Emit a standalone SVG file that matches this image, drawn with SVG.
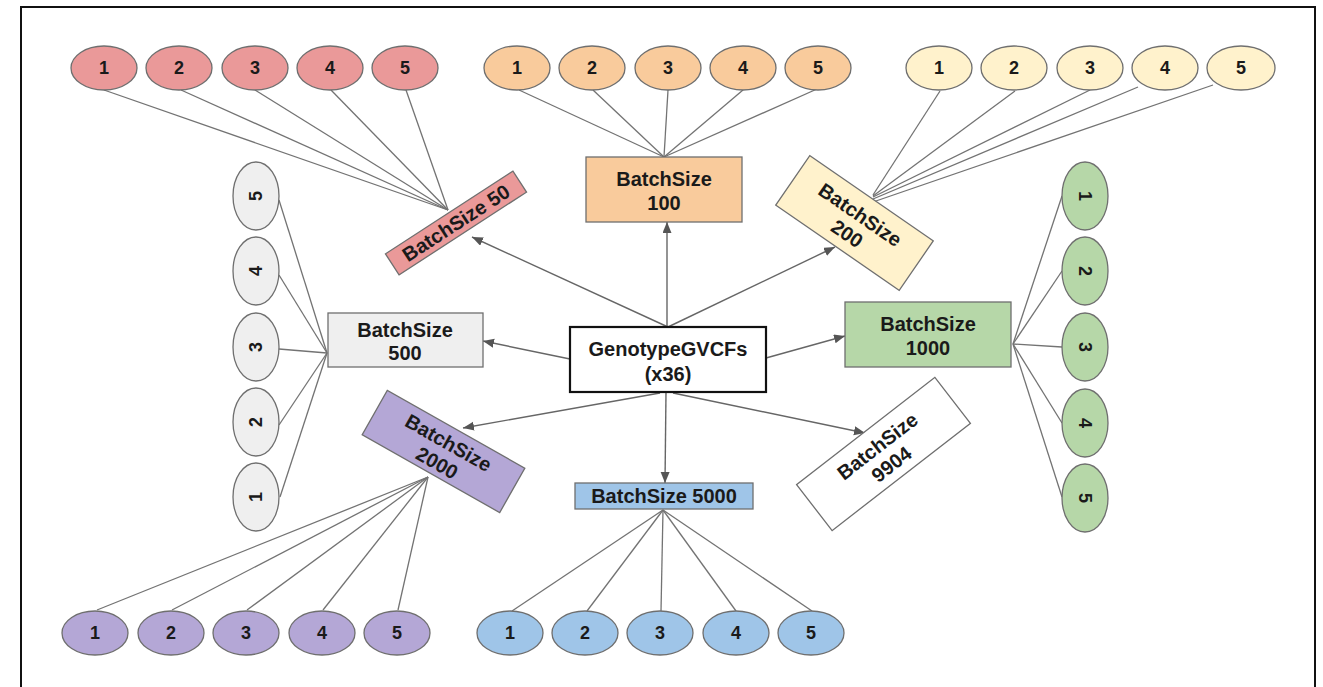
<svg xmlns="http://www.w3.org/2000/svg" width="1323" height="687" viewBox="0 0 1323 687">
<style>
.ln{stroke:#737373;stroke-width:1.3;fill:none}
.ar{stroke:#666;stroke-width:1.4;fill:none;marker-end:url(#ah)}
.el{stroke:#6f6f6f;stroke-width:1.3}
.bx{stroke:#6f6f6f;stroke-width:1.3}
.t{font-family:"Liberation Sans",Arial,sans-serif;font-weight:bold;fill:#1a1a1a;text-anchor:middle}
.n{font-size:18px}
.b{font-size:20px}
.red{fill:#ea9999}.org{fill:#f9cb9c}.yel{fill:#fff2cc}.grn{fill:#b6d7a8}.blu{fill:#9fc5e8}.pur{fill:#b4a7d6}.gry{fill:#efefef}
</style>
<defs>
<marker id="ah" markerUnits="userSpaceOnUse" markerWidth="12" markerHeight="10" refX="11" refY="4.5" orient="auto">
<path d="M0,0 L11,4.5 L0,9 Z" fill="#555"/>
</marker>
</defs>
<rect width="1323" height="687" fill="#ffffff"/>
<rect x="21" y="7" width="1294" height="700" fill="none" stroke="#111" stroke-width="2"/>

<g id="connectors">
<g id="fan-red">
<line class="ln" x1="104" y1="90" x2="448" y2="210"/>
<line class="ln" x1="181" y1="90" x2="448" y2="210"/>
<line class="ln" x1="255" y1="90" x2="448" y2="210"/>
<line class="ln" x1="331" y1="90" x2="448" y2="210"/>
<line class="ln" x1="406" y1="90" x2="448" y2="210"/>
</g>
<g id="fan-orange">
<line class="ln" x1="519" y1="90" x2="664" y2="157"/>
<line class="ln" x1="593" y1="90" x2="664" y2="157"/>
<line class="ln" x1="668" y1="90" x2="664" y2="157"/>
<line class="ln" x1="743" y1="90" x2="664" y2="157"/>
<line class="ln" x1="817" y1="89" x2="664" y2="157"/>
</g>
<g id="fan-yellow">
<line class="ln" x1="940" y1="91" x2="873" y2="195"/>
<line class="ln" x1="1015" y1="91" x2="873" y2="196"/>
<line class="ln" x1="1090" y1="90" x2="873" y2="197"/>
<line class="ln" x1="1138" y1="87" x2="873" y2="199"/>
<line class="ln" x1="1213" y1="85" x2="873" y2="202"/>
</g>
<g id="fan-grey">
<line class="ln" x1="279" y1="200" x2="327" y2="353"/>
<line class="ln" x1="279" y1="275" x2="327" y2="353"/>
<line class="ln" x1="279" y1="349" x2="327" y2="353"/>
<line class="ln" x1="279" y1="425" x2="327" y2="353"/>
<line class="ln" x1="280" y1="497" x2="327" y2="353"/>
</g>
<g id="fan-green">
<line class="ln" x1="1062" y1="196" x2="1013" y2="344"/>
<line class="ln" x1="1062" y1="271" x2="1013" y2="344"/>
<line class="ln" x1="1062" y1="347" x2="1013" y2="344"/>
<line class="ln" x1="1062" y1="423" x2="1013" y2="344"/>
<line class="ln" x1="1062" y1="497" x2="1013" y2="344"/>
</g>
<g id="fan-purple">
<line class="ln" x1="97" y1="610" x2="428" y2="477"/>
<line class="ln" x1="172" y1="610" x2="428" y2="477"/>
<line class="ln" x1="247" y1="610" x2="428" y2="477"/>
<line class="ln" x1="323" y1="610" x2="428" y2="477"/>
<line class="ln" x1="398" y1="610" x2="428" y2="477"/>
</g>
<g id="fan-blue">
<line class="ln" x1="512" y1="611" x2="663" y2="510"/>
<line class="ln" x1="587" y1="611" x2="663" y2="510"/>
<line class="ln" x1="661" y1="611" x2="663" y2="510"/>
<line class="ln" x1="736" y1="611" x2="663" y2="510"/>
<line class="ln" x1="812" y1="611" x2="663" y2="510"/>
</g>
<g id="arrows">
<line class="ar" x1="668" y1="327" x2="472" y2="237"/>
<line class="ar" x1="667" y1="327" x2="667" y2="222"/>
<line class="ar" x1="668" y1="327" x2="835" y2="247"/>
<line class="ar" x1="570" y1="359" x2="483" y2="341"/>
<line class="ar" x1="766" y1="358" x2="845" y2="336"/>
<line class="ar" x1="660" y1="393" x2="463" y2="428"/>
<line class="ar" x1="666" y1="392" x2="665" y2="483"/>
<line class="ar" x1="673" y1="393" x2="865" y2="433"/>
</g>
</g>

<g id="center">
<rect x="570" y="327" width="196" height="65" fill="#fff" stroke="#111" stroke-width="2.2"/>
<text class="t b" x="668" y="356">GenotypeGVCFs</text>
<text class="t b" x="668" y="381">(x36)</text>
</g>

<g id="bs50" transform="translate(456,223) rotate(-33)">
<rect class="bx red" x="-76" y="-12.5" width="152" height="25"/>
<text class="t b" x="0" y="7">BatchSize 50</text>
</g>
<g id="bs100">
<rect class="bx org" x="586" y="157" width="156" height="65"/>
<text class="t b" x="664" y="186">BatchSize</text>
<text class="t b" x="664" y="210">100</text>
</g>
<g id="bs200" transform="translate(854.5,223) rotate(34.6)">
<rect class="bx yel" x="-75" y="-30" width="150" height="60"/>
<text class="t b" x="0" y="-3">BatchSize</text>
<text class="t b" x="0" y="20">200</text>
</g>
<g id="bs500">
<rect class="bx gry" x="328" y="313" width="155" height="54"/>
<text class="t b" x="405" y="337">BatchSize</text>
<text class="t b" x="405" y="360">500</text>
</g>
<g id="bs1000">
<rect class="bx grn" x="845" y="302" width="166" height="65"/>
<text class="t b" x="928" y="331">BatchSize</text>
<text class="t b" x="928" y="355">1000</text>
</g>
<g id="bs2000" transform="translate(443.5,451.5) rotate(29.5)">
<rect class="bx pur" x="-79" y="-25.5" width="158" height="51"/>
<text class="t b" x="0" y="-3">BatchSize</text>
<text class="t b" x="0" y="20">2000</text>
</g>
<g id="bs5000">
<rect class="bx blu" x="575" y="483" width="178" height="26"/>
<text class="t b" x="664" y="503">BatchSize 5000</text>
</g>
<g id="bs9904" transform="translate(883.5,454) rotate(-37.8)">
<rect class="bx" fill="#fff" x="-87.5" y="-29" width="175" height="58"/>
<text class="t b" x="0" y="-3">BatchSize</text>
<text class="t b" x="0" y="20">9904</text>
</g>

<g id="red-leaves">
<g id="r1"><ellipse class="el red" cx="104" cy="68" rx="33" ry="22"/><text class="t n" x="104" y="74">1</text></g>
<g id="r2"><ellipse class="el red" cx="179" cy="68" rx="33" ry="22"/><text class="t n" x="179" y="74">2</text></g>
<g id="r3"><ellipse class="el red" cx="255" cy="68" rx="33" ry="22"/><text class="t n" x="255" y="74">3</text></g>
<g id="r4"><ellipse class="el red" cx="330" cy="68" rx="33" ry="22"/><text class="t n" x="330" y="74">4</text></g>
<g id="r5"><ellipse class="el red" cx="405" cy="68" rx="33" ry="22"/><text class="t n" x="405" y="74">5</text></g>
</g>
<g id="orange-leaves">
<g id="o1"><ellipse class="el org" cx="517" cy="68" rx="33" ry="22"/><text class="t n" x="517" y="74">1</text></g>
<g id="o2"><ellipse class="el org" cx="592" cy="68" rx="33" ry="22"/><text class="t n" x="592" y="74">2</text></g>
<g id="o3"><ellipse class="el org" cx="668" cy="68" rx="33" ry="22"/><text class="t n" x="668" y="74">3</text></g>
<g id="o4"><ellipse class="el org" cx="743" cy="68" rx="33" ry="22"/><text class="t n" x="743" y="74">4</text></g>
<g id="o5"><ellipse class="el org" cx="818" cy="68" rx="33" ry="22"/><text class="t n" x="818" y="74">5</text></g>
</g>
<g id="yellow-leaves">
<g id="y1"><ellipse class="el yel" cx="939" cy="68" rx="33" ry="22"/><text class="t n" x="939" y="74">1</text></g>
<g id="y2"><ellipse class="el yel" cx="1014" cy="68" rx="33" ry="22"/><text class="t n" x="1014" y="74">2</text></g>
<g id="y3"><ellipse class="el yel" cx="1090" cy="68" rx="33" ry="22"/><text class="t n" x="1090" y="74">3</text></g>
<g id="y4"><ellipse class="el yel" cx="1165" cy="68" rx="33" ry="22"/><text class="t n" x="1165" y="74">4</text></g>
<g id="y5"><ellipse class="el yel" cx="1241" cy="68" rx="34" ry="22"/><text class="t n" x="1241" y="74">5</text></g>
</g>
<g id="grey-leaves">
<g id="g5" transform="translate(256,196) rotate(-90)"><ellipse class="el gry" cx="0" cy="0" rx="34" ry="23"/><text class="t n" x="0" y="6">5</text></g>
<g id="g4" transform="translate(256,271) rotate(-90)"><ellipse class="el gry" cx="0" cy="0" rx="34" ry="23"/><text class="t n" x="0" y="6">4</text></g>
<g id="g3" transform="translate(256,347) rotate(-90)"><ellipse class="el gry" cx="0" cy="0" rx="34" ry="23"/><text class="t n" x="0" y="6">3</text></g>
<g id="g2" transform="translate(256,422) rotate(-90)"><ellipse class="el gry" cx="0" cy="0" rx="34" ry="23"/><text class="t n" x="0" y="6">2</text></g>
<g id="g1" transform="translate(256,497) rotate(-90)"><ellipse class="el gry" cx="0" cy="0" rx="34" ry="23"/><text class="t n" x="0" y="6">1</text></g>
</g>
<g id="green-leaves">
<g id="n1" transform="translate(1085,196) rotate(90)"><ellipse class="el grn" cx="0" cy="0" rx="34" ry="23"/><text class="t n" x="0" y="6">1</text></g>
<g id="n2" transform="translate(1085,271) rotate(90)"><ellipse class="el grn" cx="0" cy="0" rx="34" ry="23"/><text class="t n" x="0" y="6">2</text></g>
<g id="n3" transform="translate(1085,347) rotate(90)"><ellipse class="el grn" cx="0" cy="0" rx="34" ry="23"/><text class="t n" x="0" y="6">3</text></g>
<g id="n4" transform="translate(1085,423) rotate(90)"><ellipse class="el grn" cx="0" cy="0" rx="34" ry="23"/><text class="t n" x="0" y="6">4</text></g>
<g id="n5" transform="translate(1085,498) rotate(90)"><ellipse class="el grn" cx="0" cy="0" rx="34" ry="23"/><text class="t n" x="0" y="6">5</text></g>
</g>
<g id="purple-leaves">
<g id="p1"><ellipse class="el pur" cx="95" cy="633" rx="33" ry="22"/><text class="t n" x="95" y="639">1</text></g>
<g id="p2"><ellipse class="el pur" cx="171" cy="633" rx="33" ry="22"/><text class="t n" x="171" y="639">2</text></g>
<g id="p3"><ellipse class="el pur" cx="246" cy="633" rx="33" ry="22"/><text class="t n" x="246" y="639">3</text></g>
<g id="p4"><ellipse class="el pur" cx="322" cy="633" rx="33" ry="22"/><text class="t n" x="322" y="639">4</text></g>
<g id="p5"><ellipse class="el pur" cx="397" cy="633" rx="33" ry="22"/><text class="t n" x="397" y="639">5</text></g>
</g>
<g id="blue-leaves">
<g id="u1"><ellipse class="el blu" cx="510" cy="633" rx="33" ry="22"/><text class="t n" x="510" y="639">1</text></g>
<g id="u2"><ellipse class="el blu" cx="585" cy="633" rx="33" ry="22"/><text class="t n" x="585" y="639">2</text></g>
<g id="u3"><ellipse class="el blu" cx="660" cy="633" rx="33" ry="22"/><text class="t n" x="660" y="639">3</text></g>
<g id="u4"><ellipse class="el blu" cx="736" cy="633" rx="33" ry="22"/><text class="t n" x="736" y="639">4</text></g>
<g id="u5"><ellipse class="el blu" cx="811" cy="633" rx="33" ry="22"/><text class="t n" x="811" y="639">5</text></g>
</g>
</svg>
